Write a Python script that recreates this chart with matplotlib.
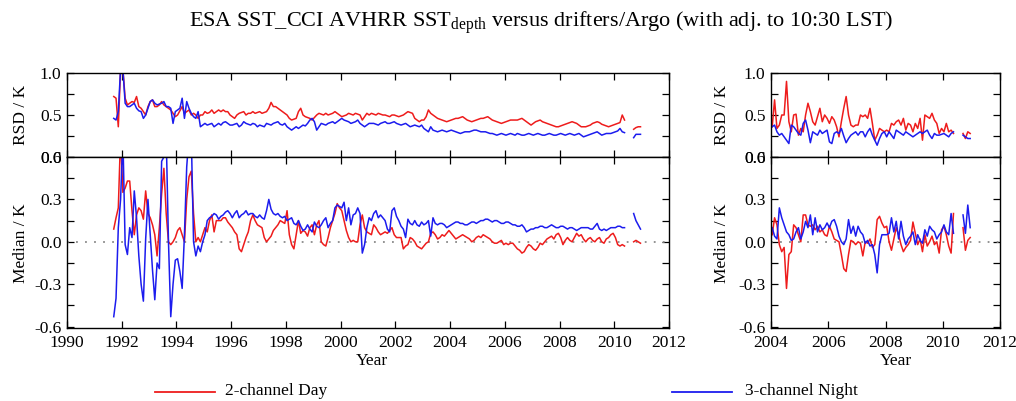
import numpy as np
import matplotlib
matplotlib.use("Agg")
import matplotlib.pyplot as plt

plt.rcParams['font.family'] = ['Liberation Serif', 'DejaVu Serif']
plt.rcParams['mathtext.fontset'] = 'custom'
plt.rcParams['mathtext.rm'] = 'Liberation Serif'
plt.rcParams['mathtext.it'] = 'Liberation Serif:italic'

# ---------------- data ----------------
# Left panels: monthly values from Sep 1991 to May 2010, plus Sep-Dec 2010
left_start = (1991, 9)
left_rsd_day = [
    0.72, 0.70, 0.36, 1.05, 1.05, 0.70, 0.62, 0.64, 0.66, 0.65, 0.72, 0.60,
    0.58, 0.54, 0.50, 0.60, 0.66, 0.68, 0.60, 0.60, 0.62, 0.66, 0.62, 0.60,
    0.58, 0.56, 0.52, 0.48, 0.50, 0.55, 0.60, 0.52, 0.54, 0.56, 0.50, 0.52,
    0.50, 0.46, 0.50, 0.50, 0.54, 0.52, 0.53, 0.56, 0.52, 0.54, 0.56, 0.54,
    0.56, 0.54, 0.54,
    0.50, 0.48, 0.46, 0.50, 0.52, 0.53, 0.54, 0.50, 0.52, 0.52, 0.54, 0.52,
    0.53, 0.54, 0.52, 0.53, 0.54, 0.58, 0.65, 0.60, 0.60, 0.58, 0.56, 0.54,
    0.52, 0.50, 0.46, 0.44, 0.45, 0.46, 0.54, 0.58, 0.50, 0.48, 0.47, 0.46,
    0.44, 0.47, 0.50, 0.52, 0.51, 0.50, 0.52, 0.50, 0.51, 0.52, 0.54, 0.52,
    0.50, 0.48, 0.49, 0.50, 0.52, 0.51, 0.50, 0.52, 0.51, 0.50, 0.44, 0.48,
    0.52, 0.50, 0.52, 0.51, 0.50, 0.52, 0.51, 0.50, 0.50, 0.49, 0.48, 0.50,
    0.50, 0.49, 0.48, 0.49, 0.50, 0.52, 0.54, 0.53, 0.52, 0.46, 0.44, 0.42,
    0.44, 0.44, 0.48, 0.56, 0.52, 0.50, 0.48, 0.46, 0.45, 0.44, 0.43, 0.42,
    0.43, 0.44, 0.45, 0.46, 0.46, 0.47, 0.48, 0.46, 0.44, 0.43, 0.42, 0.43,
    0.44, 0.45, 0.46, 0.46, 0.47, 0.48, 0.46, 0.44, 0.43, 0.42, 0.41, 0.40,
    0.41, 0.42, 0.43, 0.44, 0.44, 0.44, 0.44, 0.45, 0.46, 0.44, 0.42, 0.40,
    0.38, 0.40, 0.42, 0.43, 0.44, 0.42, 0.41, 0.40, 0.39, 0.38, 0.37, 0.36,
    0.36, 0.37, 0.38, 0.39, 0.40, 0.41, 0.42, 0.41, 0.40, 0.38, 0.36, 0.36,
    0.36, 0.37, 0.38, 0.40, 0.41, 0.42, 0.41, 0.39, 0.38, 0.37, 0.36, 0.37,
    0.38, 0.39, 0.40, 0.41, 0.50, 0.44,
]
left_rsd_night = [
    0.46, 0.44, 0.54, 1.05, 1.05, 0.64, 0.60, 0.60, 0.62, 0.64, 0.58, 0.55,
    0.54, 0.46, 0.50, 0.58, 0.66, 0.68, 0.64, 0.62, 0.63, 0.64, 0.66, 0.60,
    0.60, 0.58, 0.40, 0.54, 0.56, 0.58, 0.70, 0.46, 0.66, 0.58, 0.52, 0.48,
    0.46, 0.54, 0.36, 0.38, 0.40, 0.38, 0.39, 0.40, 0.36, 0.38, 0.40, 0.38,
    0.41, 0.42, 0.40, 0.38,
    0.38, 0.39, 0.40, 0.36, 0.38, 0.42, 0.40, 0.39, 0.38, 0.40, 0.39, 0.36,
    0.38, 0.37, 0.36, 0.40, 0.39, 0.38, 0.40, 0.41, 0.42, 0.39, 0.38, 0.40,
    0.36, 0.34, 0.32, 0.34, 0.36, 0.34, 0.36, 0.38, 0.37, 0.40, 0.44, 0.46,
    0.42, 0.32, 0.36, 0.40, 0.39, 0.38, 0.40, 0.41, 0.42, 0.40, 0.42, 0.44,
    0.46, 0.44, 0.43, 0.42, 0.40, 0.41, 0.42, 0.44, 0.40, 0.38, 0.36, 0.38,
    0.40, 0.40, 0.40, 0.39, 0.38, 0.40, 0.41, 0.42, 0.40, 0.40, 0.41, 0.42,
    0.40, 0.39, 0.38, 0.39, 0.40, 0.38, 0.36, 0.37, 0.38, 0.37, 0.36, 0.38,
    0.34, 0.32, 0.30, 0.36, 0.32, 0.31, 0.30, 0.31, 0.32, 0.31, 0.30, 0.31,
    0.32, 0.31, 0.30, 0.29, 0.28, 0.29, 0.30, 0.30, 0.30, 0.31, 0.32, 0.32,
    0.31, 0.30, 0.30, 0.30, 0.29, 0.28, 0.28, 0.27, 0.26, 0.27, 0.28, 0.27,
    0.26, 0.27, 0.28, 0.27, 0.26, 0.28, 0.27, 0.26, 0.26, 0.27, 0.28, 0.27,
    0.26, 0.27, 0.28, 0.27, 0.26, 0.26, 0.27, 0.28, 0.27, 0.26, 0.26, 0.27,
    0.28, 0.27, 0.26, 0.27, 0.28, 0.27, 0.26, 0.27, 0.28, 0.26, 0.24, 0.25,
    0.26, 0.27, 0.28, 0.29, 0.30, 0.28, 0.26, 0.27, 0.28, 0.28, 0.28, 0.29,
    0.30, 0.31, 0.34, 0.30, 0.29,
]
left_med_day = [
    0.09, 0.17, 0.24, 0.75, 0.35, 0.38, 0.43, 0.43, 0.22, 0.05, 0.19, 0.24,
    0.22, 0.16, 0.36, 0.20, 0.17, 0.12, 0.05, -0.10, 0.10, 0.34, 0.52, 0.20,
    0.00, -0.02, 0.00, 0.03, 0.08, 0.10, 0.05, 0.00, 0.30, 0.46, 0.50, 0.20,
    0.00, 0.03, 0.00, 0.05, 0.10, 0.07, 0.15, 0.19, 0.07, 0.15, 0.15, 0.15,
    0.17, 0.17, 0.14, 0.12,
    0.10, 0.07, 0.05, -0.05, -0.07, -0.02, 0.03, 0.07, 0.15, 0.19, 0.15, 0.12,
    0.11, 0.10, 0.03, 0.00, 0.02, 0.04, 0.08, 0.10, 0.12, 0.15, 0.14, 0.13,
    0.22, 0.05, -0.02, -0.05, 0.05, 0.15, 0.06, 0.08, 0.07, 0.04, 0.10, 0.12,
    0.05, 0.12, 0.15, 0.00, -0.02, -0.03, 0.03, 0.10, 0.15, 0.20, 0.27, 0.24,
    0.22, 0.15, 0.08, 0.03, 0.00, 0.01, 0.00, 0.00, 0.12, 0.19, 0.10, 0.07,
    0.06, 0.05, 0.12, 0.10, 0.07, 0.05, 0.06, 0.07, 0.06, 0.08, 0.10, 0.05,
    0.03, 0.03, 0.03, -0.05, -0.03, -0.02, 0.03, 0.02, 0.00, -0.03, -0.04, -0.05,
    -0.03, -0.01, 0.00,
    0.06, 0.07, 0.05, 0.02, 0.03, 0.05, 0.04, 0.06, 0.08, 0.06, 0.04, 0.02,
    0.03, 0.04, 0.05, 0.04, 0.03, 0.02, 0.00, 0.01, 0.03, 0.04, 0.03, 0.05,
    0.04, 0.03, 0.02, 0.00, -0.01, -0.01, 0.00, 0.01, -0.02, -0.01, -0.02, -0.01,
    -0.01, -0.03, -0.05, -0.06, -0.08, -0.07, -0.04, -0.02, -0.03, -0.05, -0.06, -0.04,
    -0.01, -0.02, 0.00, 0.02, 0.03, 0.04, 0.02, 0.05, 0.06, 0.03, -0.02, 0.01,
    0.03, 0.01, 0.00, 0.03, 0.06, 0.04, 0.05, 0.02, 0.00, 0.02, 0.03, 0.01,
    0.00, 0.02, 0.03, 0.00, -0.01, 0.02, 0.03, 0.05, 0.06, 0.03, -0.02, -0.03,
    -0.02, -0.03,
]
left_med_night = [
    -0.53, -0.40, 0.10, 0.30, 0.75, -0.02, -0.09, 0.10, 0.03, 0.36, 0.17, -0.10,
    -0.30, -0.42, 0.02, 0.30, 0.05, -0.20, -0.41, -0.15, -0.19, 0.57, 0.60, 0.75,
    0.00, -0.53, -0.30, -0.13, -0.12, -0.21, -0.33, 0.05, 0.53, 0.75, 0.75, 0.00,
    -0.10, -0.03, -0.07, 0.00, 0.05, 0.15, 0.17, 0.18, 0.20, 0.19, 0.16, 0.18,
    0.19, 0.21, 0.22, 0.20,
    0.17, 0.20, 0.22, 0.17, 0.19, 0.20, 0.22, 0.19, 0.20, 0.20, 0.18, 0.17,
    0.19, 0.17, 0.16, 0.22, 0.30, 0.23, 0.20, 0.19, 0.20, 0.18, 0.17, 0.18,
    0.15, 0.16, 0.17, 0.13, 0.12, 0.15, 0.11, 0.08, 0.09, 0.12, 0.09, 0.07,
    0.14, 0.11, 0.10, 0.12, 0.15, 0.17, 0.10, 0.13, 0.15, 0.24, 0.26, 0.25,
    0.24, 0.28, 0.15, 0.24, 0.12, 0.19, 0.20, 0.24, 0.20, -0.08, -0.02, 0.10,
    0.17, 0.15, 0.20, 0.22, 0.17, 0.19, 0.17, 0.15, 0.09, 0.07, 0.22, 0.24,
    0.18, 0.15, 0.11, 0.09, 0.03, 0.16, 0.13, 0.12, 0.15, 0.12, 0.11, 0.14,
    0.12, 0.13, 0.15,
    0.04, 0.17, 0.13, 0.12, 0.13, 0.13, 0.12, 0.10, 0.11, 0.12, 0.13, 0.14,
    0.14, 0.13, 0.13, 0.12, 0.12, 0.13, 0.14, 0.14, 0.13, 0.14, 0.15, 0.15,
    0.16, 0.16, 0.15, 0.14, 0.15, 0.15, 0.14, 0.13, 0.13, 0.14, 0.14, 0.13,
    0.12, 0.12, 0.11, 0.11, 0.12, 0.10, 0.07, 0.08, 0.09, 0.09, 0.10, 0.10,
    0.11, 0.11, 0.10, 0.10, 0.11, 0.12, 0.11, 0.10, 0.10, 0.11, 0.11, 0.10,
    0.09, 0.10, 0.10, 0.09, 0.08, 0.09, 0.10, 0.10, 0.10, 0.10, 0.09, 0.09,
    0.11, 0.13, 0.09, 0.08, 0.09, 0.08, 0.09, 0.10, 0.10, 0.10, 0.11, 0.11,
    0.10, 0.10,
]
# short segment Sep-Dec 2010
tail_start = (2010, 9)
left_rsd_day_tail = [0.33, 0.35, 0.36, 0.36]
left_rsd_night_tail = [0.23, 0.27, 0.27, 0.27]
left_med_day_tail = [0.00, 0.01, 0.00, -0.01]
left_med_night_tail = [0.20, 0.15, 0.12, 0.09]

# Right panels: monthly values Jan 2004 - May 2010, plus Sep-Dec 2010
right_start = (2004, 1)
right_rsd_day = [
    0.36, 0.68, 0.34, 0.38, 0.50, 0.50, 0.90, 0.42, 0.30, 0.50, 0.51, 0.26,
    0.34, 0.30, 0.50, 0.64, 0.54, 0.42, 0.38, 0.48, 0.58, 0.42, 0.50, 0.46,
    0.40, 0.48, 0.44, 0.36, 0.24, 0.42, 0.58, 0.72, 0.50, 0.38, 0.36, 0.38,
    0.38, 0.50, 0.48, 0.50, 0.46, 0.58, 0.40, 0.20, 0.26, 0.34, 0.32, 0.30,
    0.32, 0.30, 0.40, 0.38, 0.42, 0.44, 0.38, 0.46, 0.32, 0.40, 0.38, 0.30,
    0.40, 0.34, 0.46, 0.20, 0.50, 0.48, 0.46, 0.52, 0.44, 0.40, 0.28, 0.34,
    0.30, 0.40, 0.30, 0.32, 0.28,
]
right_rsd_night = [
    0.36, 0.38, 0.30, 0.26, 0.28, 0.24, 0.20, 0.16, 0.38, 0.36, 0.32, 0.28,
    0.26, 0.40, 0.44, 0.32, 0.17, 0.30, 0.28, 0.26, 0.32, 0.28, 0.30, 0.32,
    0.18, 0.16, 0.28, 0.30, 0.28, 0.34, 0.25, 0.17, 0.22, 0.26, 0.28, 0.30,
    0.26, 0.30, 0.30, 0.24, 0.30, 0.34, 0.26, 0.20, 0.14, 0.22, 0.28, 0.30,
    0.24, 0.30, 0.26, 0.22, 0.32, 0.30, 0.28, 0.26, 0.30, 0.28, 0.26, 0.24,
    0.26, 0.28, 0.30, 0.28, 0.30, 0.32, 0.26, 0.22, 0.28, 0.26, 0.26, 0.27,
    0.28, 0.26, 0.24, 0.28, 0.30,
]
right_med_day = [
    0.05, 0.17, 0.12, -0.02, -0.07, -0.04, -0.33, -0.09, -0.07, 0.12, 0.10, 0.05,
    0.00, 0.19, 0.19, 0.12, 0.11, 0.12, 0.085, 0.11, 0.07, 0.085, 0.05, 0.04,
    0.11, 0.07, 0.02, 0.01, 0.00, -0.09, -0.19, -0.21, -0.09, 0.01, 0.00, -0.02,
    0.00, -0.01, -0.10, 0.00, -0.01, 0.02, -0.04, -0.02, 0.157, 0.18, 0.133, 0.10,
    0.11, 0.00, -0.06, 0.02, 0.10, 0.05, -0.02, -0.07, -0.04, -0.02, 0.01, 0.14,
    0.06, -0.02, 0.02, -0.07, 0.05, -0.03, 0.00, 0.04, -0.02, 0.00, -0.08, 0.085,
    0.11, 0.05, -0.03, -0.08, 0.20,
]
right_med_night = [
    0.10, 0.04, 0.02, 0.24, 0.17, 0.12, 0.07, 0.05, 0.01, 0.02, 0.07, 0.10,
    0.02, 0.07, 0.145, 0.10, 0.19, 0.05, 0.17, 0.07, 0.12, 0.085, 0.10, 0.133,
    0.10, 0.145, 0.157, 0.11, 0.04, 0.00, -0.02, 0.02, 0.157, 0.06, 0.11, 0.04,
    0.11, 0.07, 0.05, -0.01, 0.01, -0.03, -0.02, -0.09, -0.22, -0.02, 0.05, 0.05,
    0.05, 0.06, 0.17, 0.07, 0.145, 0.02, 0.145, 0.04, -0.02, 0.02, 0.04, 0.07,
    -0.02, 0.05, 0.01, -0.01, 0.085, 0.04, 0.11, 0.085, 0.07, 0.02, 0.05, 0.07,
    0.12, 0.07, 0.05, 0.20, 0.06,
]
right_rsd_day_tail = [0.28, 0.22, 0.30, 0.28]
right_rsd_night_tail = [0.26, 0.24, 0.22, 0.22]
right_med_day_tail = [0.10, -0.06, 0.01, 0.03]
right_med_night_tail = [0.19, 0.06, 0.26, 0.10]

left_xticks = [1990, 1992, 1994, 1996, 1998, 2000, 2002, 2004, 2006, 2008, 2010, 2012]
right_xticks = [2004, 2006, 2008, 2010, 2012]
rsd_ticks = [0.0, 0.25, 0.5, 0.75, 1.0]
rsd_labels = ['0.0', '', '0.5', '', '1.0']
med_ticks = [-0.6, -0.45, -0.3, -0.15, 0.0, 0.15, 0.3, 0.45, 0.6]
med_labels = ['-0.6', '', '-0.3', '', '0.0', '', '0.3', '', '0.6']

title_main = 'ESA SST_CCI AVHRR SST$_{\\rm depth}$ versus drifters/Argo (with adj. to 10:30 LST)'
label_day = '2-channel Day'
label_night = '3-channel Night'


def months(start, n):
    y, m = start
    return y + (m - 1 + 0.5 + np.arange(n)) / 12.0


RED = '#ee1c1c'
BLUE = '#1c1cee'
FS = 12.5

W, H = 1016, 401
fig = plt.figure(figsize=(W / 100, H / 100), dpi=100)


def ax_px(x0, x1, y0, y1):
    return fig.add_axes([x0 / W, 1 - y1 / H, (x1 - x0) / W, (y1 - y0) / H])


axLT = ax_px(67, 669, 73, 157)
axLB = ax_px(67, 669, 157, 328)
axRT = ax_px(771, 1000, 73, 157)
axRB = ax_px(771, 1000, 157, 328)


def style(ax, xlim, xticks, ylim, yt, yl, show_x):
    ax.set_xlim(*xlim)
    ax.set_ylim(*ylim)
    ax.set_xticks(xticks)
    ax.set_yticks(yt)
    ax.set_yticklabels(yl)
    if show_x:
        ax.set_xticklabels([str(t) for t in xticks])
    else:
        ax.set_xticklabels([])
    ax.tick_params(direction='in', length=5, width=0.9, top=True, right=True,
                   labelsize=FS, pad=4)
    ax.tick_params(axis='x', pad=5)
    for s in ax.spines.values():
        s.set_linewidth(1.0)


lw = 1.1
tl = months(left_start, len(left_rsd_day))
tt = months(tail_start, len(left_rsd_day_tail))
tr = months(right_start, len(right_rsd_day))

axLT.plot(tl, left_rsd_day, color=RED, lw=lw)
axLT.plot(tt, left_rsd_day_tail, color=RED, lw=lw)
axLT.plot(tl, left_rsd_night, color=BLUE, lw=lw)
axLT.plot(tt, left_rsd_night_tail, color=BLUE, lw=lw)

for ax in (axLB, axRB):
    ax.axhline(0, color='#8a8a8a', lw=1.3, linestyle=(0, (1, 4)))

axLB.plot(tl, left_med_day, color=RED, lw=lw)
axLB.plot(tt, left_med_day_tail, color=RED, lw=lw)
axLB.plot(tl, left_med_night, color=BLUE, lw=lw)
axLB.plot(tt, left_med_night_tail, color=BLUE, lw=lw)

axRT.plot(tr, right_rsd_day, color=RED, lw=lw)
axRT.plot(tt, right_rsd_day_tail, color=RED, lw=lw)
axRT.plot(tr, right_rsd_night, color=BLUE, lw=lw)
axRT.plot(tt, right_rsd_night_tail, color=BLUE, lw=lw)

axRB.plot(tr, right_med_day, color=RED, lw=lw)
axRB.plot(tt, right_med_day_tail, color=RED, lw=lw)
axRB.plot(tr, right_med_night, color=BLUE, lw=lw)
axRB.plot(tt, right_med_night_tail, color=BLUE, lw=lw)

style(axLT, (1990, 2012), left_xticks, (0, 1.0), rsd_ticks, rsd_labels, False)
style(axLB, (1990, 2012), left_xticks, (-0.61, 0.6), med_ticks, med_labels, True)
style(axRT, (2004, 2012), right_xticks, (0, 1.0), rsd_ticks, rsd_labels, False)
style(axRB, (2004, 2012), right_xticks, (-0.61, 0.6), med_ticks, med_labels, True)


def ftext(x, y, s, **kw):
    fig.text(x / W, 1 - y / H, s, fontsize=FS, **kw)


ftext(21, 115, 'RSD / K', rotation=90, ha='center', va='center')
ftext(21, 243, 'Median / K', rotation=90, ha='center', va='center')
ftext(722, 115, 'RSD / K', rotation=90, ha='center', va='center')
ftext(722, 243, 'Median / K', rotation=90, ha='center', va='center')
ftext(372, 361, 'Year', ha='center', va='center')
ftext(896, 361, 'Year', ha='center', va='center')

fig.text(189 / W, 1 - 23 / H, title_main, fontsize=16, ha='left', va='center')

# legend
fig.add_artist(plt.Line2D([155 / W, 215 / W], [1 - 392 / H] * 2, color=RED, lw=1.3))
ftext(225, 391, label_day, ha='left', va='center')
fig.add_artist(plt.Line2D([672 / W, 732 / W], [1 - 392 / H] * 2, color=BLUE, lw=1.3))
ftext(745, 391, label_night, ha='left', va='center')

fig.savefig('out.png', dpi=100)
